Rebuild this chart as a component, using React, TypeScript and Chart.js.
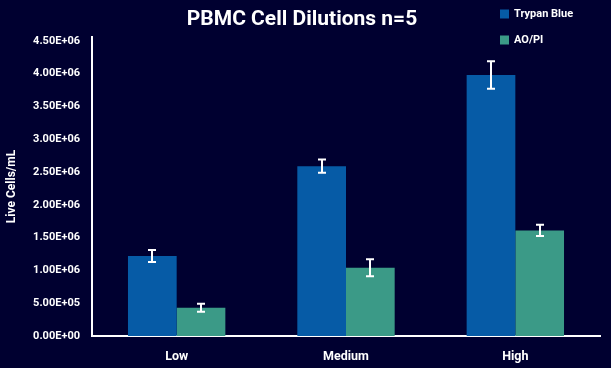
import React, { useEffect, useRef } from "react";
import { Chart, registerables } from "chart.js";

Chart.register(...registerables);

const categories = ["Low", "Medium", "High"];
const trypanBlue = [1.22e6, 2.59e6, 3.98e6];
const trypanBlueErr = [0.09e6, 0.1e6, 0.21e6];
const aopi = [0.43e6, 1.04e6, 1.61e6];
const aopiErr = [0.06e6, 0.13e6, 0.085e6];
const seriesNames = ["Trypan Blue", "AO/PI"];
const chartTitle = "PBMC Cell Dilutions n=5";
const yTitle = "Live Cells/mL";

const BG = "#000030";
const BLUE = "#065BA6";
const GREEN = "#3B9A87";
const FONT = "Roboto";

const bgPlugin = {
  id: "bg",
  beforeDraw(chart: any) {
    const ctx = chart.ctx;
    ctx.save();
    ctx.fillStyle = BG;
    ctx.fillRect(0, 0, chart.width, chart.height);
    ctx.restore();
  },
};

const errPlugin = {
  id: "errbars",
  afterDatasetsDraw(chart: any) {
    const ctx = chart.ctx;
    const yScale = chart.scales.y;
    ctx.save();
    ctx.strokeStyle = "#ffffff";
    ctx.lineWidth = 2;
    chart.data.datasets.forEach((ds: any, i: number) => {
      const meta = chart.getDatasetMeta(i);
      meta.data.forEach((bar: any, j: number) => {
        const v = ds.data[j];
        const e = ds.errors[j];
        const yt = yScale.getPixelForValue(v + e);
        const yb = yScale.getPixelForValue(v - e);
        const x = Math.round(bar.x);
        ctx.beginPath();
        ctx.moveTo(x, yt);
        ctx.lineTo(x, yb);
        ctx.moveTo(x - 4, yt);
        ctx.lineTo(x + 4, yt);
        ctx.moveTo(x - 4, yb);
        ctx.lineTo(x + 4, yb);
        ctx.stroke();
      });
    });
    ctx.restore();
  },
};

const titleLegendPlugin = {
  id: "titleLegend",
  afterDraw(chart: any) {
    const ctx = chart.ctx;
    ctx.save();
    ctx.fillStyle = "#ffffff";
    ctx.font = `bold 21px ${FONT}`;
    ctx.textAlign = "center";
    ctx.textBaseline = "middle";
    ctx.fillText(chartTitle, 302, 20);
    // legend
    ctx.font = `bold 11px ${FONT}`;
    ctx.textAlign = "left";
    chart.data.datasets.forEach((ds: any, i: number) => {
      const y = 14 + i * 26;
      ctx.fillStyle = ds.backgroundColor;
      ctx.fillRect(500, y - 4.5, 9, 9);
      ctx.fillStyle = "#ffffff";
      ctx.fillText(ds.label, 514, y);
    });
    ctx.restore();
  },
};

export default function App() {
  const ref = useRef<HTMLCanvasElement | null>(null);
  useEffect(() => {
    document.body.style.margin = "0";
    document.body.style.background = BG;
    const chart = new Chart(ref.current as HTMLCanvasElement, {
      type: "bar",
      data: {
        labels: categories,
        datasets: [
          { label: seriesNames[0], data: trypanBlue, errors: trypanBlueErr, backgroundColor: BLUE } as any,
          { label: seriesNames[1], data: aopi, errors: aopiErr, backgroundColor: GREEN } as any,
        ],
      },
      options: {
        responsive: false,
        animation: false,
        layout: { padding: { top: 37, right: 11, left: 0, bottom: 0 } },
        datasets: { bar: { categoryPercentage: 0.575, barPercentage: 1 } },
        plugins: {
          legend: { display: false },
          title: { display: false },
          tooltip: { enabled: false },
        },
        scales: {
          x: {
            grid: { display: false, drawTicks: false },
            border: { display: true, color: "#ffffff", width: 2 },
            ticks: { color: "#ffffff", font: { family: FONT, size: 12.5, weight: "bold" }, padding: 13 },
            afterFit(scale: any) {
              scale.height = 32;
            },
          },
          y: {
            min: 0,
            max: 4.56e6,
            afterBuildTicks(scale: any) {
              const t = [];
              for (let v = 0; v <= 4.5e6 + 1; v += 5e5) t.push({ value: v });
              scale.ticks = t;
            },
            grid: { display: false, drawTicks: false },
            border: { display: true, color: "#ffffff", width: 2 },
            ticks: {
              color: "#ffffff",
              font: { family: FONT, size: 11, weight: "bold" },
              padding: 12,
              callback: (v: any) => {
                const n = Number(v);
                if (n === 0) return "0.00E+00";
                const exp = Math.floor(Math.log10(n));
                const m = n / Math.pow(10, exp);
                return `${m.toFixed(2)}E+${String(exp).padStart(2, "0")}`;
              },
            },
            title: {
              display: true,
              text: yTitle,
              color: "#ffffff",
              font: { family: FONT, size: 12, weight: "bold" },
              padding: { top: 5, bottom: 0 },
            },
            afterFit(scale: any) {
              scale.width = 92;
            },
          },
        },
      },
      plugins: [bgPlugin, errPlugin, titleLegendPlugin],
    } as any);
    return () => chart.destroy();
  }, []);
  return <canvas ref={ref} width={611} height={368} style={{ display: "block" }} />;
}
